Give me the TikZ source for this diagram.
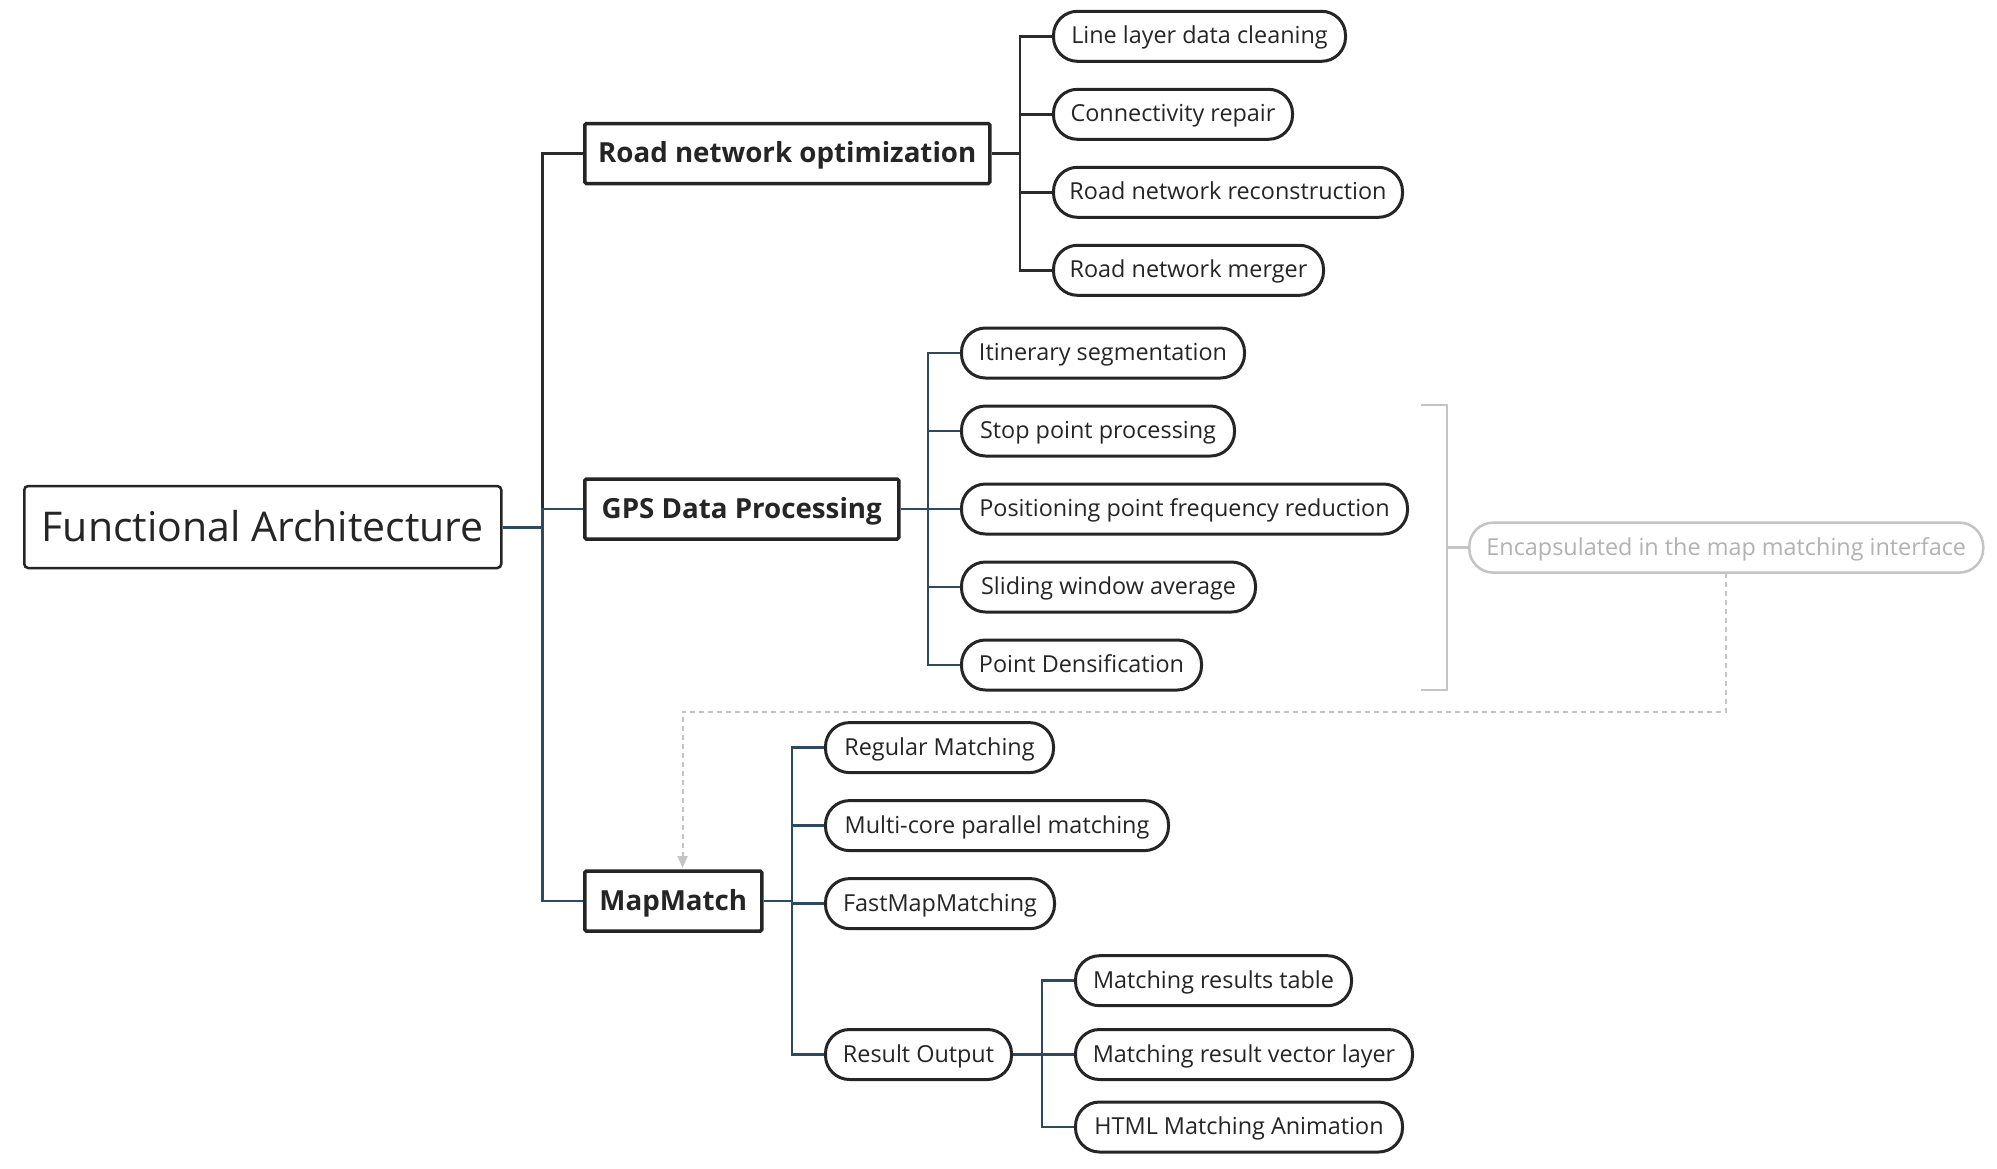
\documentclass[tikz,border=0pt]{standalone}
\usepackage{fontspec}
\setmainfont{Open Sans}
\usetikzlibrary{arrows.meta}
\definecolor{inkdark}{HTML}{252525}
\definecolor{branchgray}{HTML}{2B2B2B}
\definecolor{branchblue}{HTML}{2E4A62}
\definecolor{notegray}{HTML}{C4C4C4}
\definecolor{notetext}{HTML}{B2B2B2}
\tikzset{
  rootbox/.style={draw=inkdark, line width=2.5pt, rounded corners=4pt, fill=white,
    minimum height=82pt, inner sep=0pt, anchor=west, text=inkdark,
    text height=34pt, text depth=6pt,
    font=\fontsize{41}{48}\selectfont},
  mainbox/.style={draw=inkdark, line width=3.5pt, rounded corners=1.5pt, fill=white,
    minimum height=60pt, inner sep=0pt, anchor=west, text=inkdark,
    text height=24pt, text depth=6pt,
    font=\bfseries\fontsize{27.7}{32}\selectfont},
  leafbox/.style={draw=inkdark, line width=3pt, rounded corners=24pt, fill=white,
    minimum height=50pt, inner sep=0pt, anchor=west, text=inkdark,
    text height=20pt, text depth=5pt,
    font=\fontsize{23.4}{28}\selectfont},
  notebox/.style={draw=notegray, line width=2.5pt, rounded corners=24pt, fill=white,
    minimum height=50pt, inner sep=0pt, anchor=west, text=notetext,
    text height=20pt, text depth=5pt,
    font=\fontsize{23.4}{28}\selectfont},
  graylink/.style={draw=branchgray, line width=2.5pt},
  bluelink/.style={draw=branchblue, line width=2.5pt},
  rootlink/.style={draw=branchblue, line width=3pt},
}
\begin{document}
\begin{tikzpicture}[x=1pt, y=-1pt]
\useasboundingbox[fill=white] (0,0) rectangle (1997,1168);

% root and first-level topics
\node[rootbox, minimum width=477pt] (root) at (23,527) {Functional Architecture};
\node[mainbox, minimum width=405pt] (rno) at (583,153.5) {Road network optimization};
\node[mainbox, minimum width=314pt] (gps) at (583,509) {GPS Data Processing};
\node[mainbox, minimum width=177pt] (mm) at (583,901) {MapMatch};

% road network optimization subtopics
\node[leafbox, minimum width=292pt] (c1) at (1052,36.3) {Line layer data cleaning};
\node[leafbox, minimum width=239pt] (c2) at (1052,114.3) {Connectivity repair};
\node[leafbox, minimum width=349pt] (c3) at (1052,192.3) {Road network reconstruction};
\node[leafbox, minimum width=270pt] (c4) at (1052,270.3) {Road network merger};

% GPS data processing subtopics
\node[leafbox, minimum width=283pt] (g1) at (960,353) {Itinerary segmentation};
\node[leafbox, minimum width=273pt] (g2) at (960,431) {Stop point processing};
\node[leafbox, minimum width=446pt] (g3) at (960,509) {Positioning point frequency reduction};
\node[leafbox, minimum width=294pt] (g4) at (960,587) {Sliding window average};
\node[leafbox, minimum width=240pt] (g5) at (960,665) {Point Densification};

% map matching subtopics
\node[leafbox, minimum width=228pt] (m1) at (824,747.6) {Regular Matching};
\node[leafbox, minimum width=343pt] (m2) at (824,825.6) {Multi-core parallel matching};
\node[leafbox, minimum width=229pt] (m3) at (824,903.6) {FastMapMatching};
\node[leafbox, minimum width=186pt] (m4) at (824,1054.5) {Result Output};

% result output subtopics
\node[leafbox, minimum width=276pt] (r1) at (1074,980.7) {Matching results table};
\node[leafbox, minimum width=337pt] (r2) at (1074,1054.5) {Matching result vector layer};
\node[leafbox, minimum width=327pt] (r3) at (1074,1127) {HTML Matching Animation};

% summary note
\node[notebox, minimum width=514pt] (note) at (1468,547.6) {Encapsulated in the map matching interface};

% fork points
\coordinate (rootfork) at (542.5,527);
\coordinate (rnofork) at (1020,153.5);
\coordinate (gpsfork) at (928,509);
\coordinate (mmfork) at (792,901);
\coordinate (outfork) at (1042,1054.5);

% root branches
\draw[rootlink] (root.east) -- (rootfork);
\draw[graylink] (rootfork) |- (rno.west);
\draw[bluelink] (rootfork) |- (gps.west);
\draw[bluelink] (rootfork) |- (mm.west);

% road network optimization branches
\draw[graylink] (rno.east) -- (rnofork);
\foreach \n in {c1,c2,c3,c4} \draw[graylink] (rnofork) |- (\n.west);

% GPS branches
\draw[bluelink] (gps.east) -- (gpsfork);
\foreach \n in {g1,g2,g3,g4,g5} \draw[bluelink] (gpsfork) |- (\n.west);

% map matching branches
\draw[bluelink] (mm.east) -- (mmfork);
\foreach \n in {m1,m2,m3,m4} \draw[bluelink] (mmfork) |- (\n.west);

% result output branches
\draw[bluelink] (m4.east) -- (outfork);
\foreach \n in {r1,r2,r3} \draw[bluelink] (outfork) |- (\n.west);

% bracket grouping the GPS steps
\coordinate (brtop) at (1421,405);
\coordinate (brbot) at (1421,690);
\coordinate (brmid) at (1447,547.6);
\draw[draw=notegray, line width=2.5pt] (brtop) -- (1447,405) -- (1447,690) -- (brbot);
\draw[draw=notegray, line width=2.5pt] (brmid) -- (note.west);

% dashed relation from the note to MapMatch
\coordinate (notefoot) at (1726,572.6);
\coordinate (mmtop) at (682.6,868);
\draw[draw=notegray, line width=2pt, dash pattern=on 5pt off 4pt,
  -{Triangle[length=12pt, width=10pt]}]
  (notefoot) -- (1726,712) -- (682.6,712) -- (mmtop);
\end{tikzpicture}
\end{document}
